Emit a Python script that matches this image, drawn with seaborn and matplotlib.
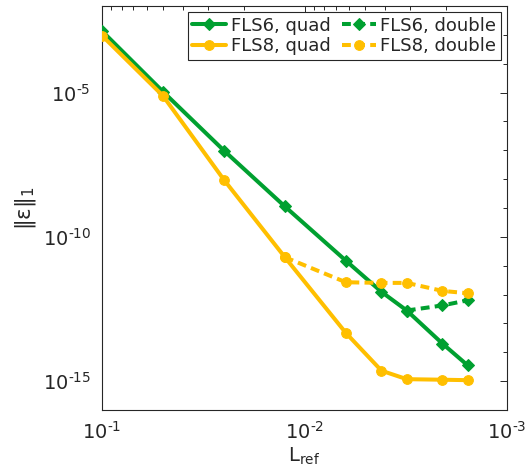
import numpy as np
import pandas as pd
import matplotlib
matplotlib.use("Agg")
import matplotlib.pyplot as plt
import matplotlib.ticker as mticker
import seaborn as sns

# ---- data ----
L_ref = [0.1, 0.05, 0.025, 0.0125, 0.00625, 1/240, 1/320, 1/480, 1/640]
fls6_quad = [1.36e-3, 1.08e-5, 9.8e-8, 1.13e-9, 1.5e-11, 1.24e-12, 2.8e-13, 2.0e-14, 3.5e-15]
fls8_quad = [9.4e-4, 7.7e-6, 9.5e-9, 1.97e-11, 4.7e-14, 2.3e-15, 1.17e-15, 1.12e-15, 1.08e-15]
L_ref_fls6_double = [1/320, 1/480, 1/640]
fls6_double = [2.8e-13, 4.2e-13, 6.35e-13]
L_ref_fls8_double = [0.0125, 0.00625, 1/240, 1/320, 1/480, 1/640]
fls8_double = [1.97e-11, 2.67e-12, 2.54e-12, 2.54e-12, 1.34e-12, 1.11e-12]
labels = ["FLS6, quad", "FLS8, quad", "FLS6, double", "FLS8, double"]

green = "#00A030"
yellow = "#FFBF00"

sns.set_style("white")
plt.rcParams["font.family"] = ["DejaVu Sans"]
plt.rcParams["mathtext.default"] = "regular"

fig = plt.figure(figsize=(5.32, 4.75), dpi=100)
ax = fig.add_axes([102/532, 1-410/475, 405/532, 404/475])

lw = 2.9
series = [
    (L_ref, fls6_quad, green, "D", "-", labels[0], 6.0),
    (L_ref, fls8_quad, yellow, "o", "-", labels[1], 7.0),
    (L_ref_fls6_double, fls6_double, green, "D", "--", labels[2], 6.0),
    (L_ref_fls8_double, fls8_double, yellow, "o", "--", labels[3], 7.0),
]
for i, (xs, ys, c, m, ls, lab, ms) in enumerate(series):
    df = pd.DataFrame({"x": xs, "y": ys})
    sns.lineplot(data=df, x="x", y="y", ax=ax, color=c, marker=m, markersize=ms,
                 markeredgecolor=c, markerfacecolor=c, linewidth=lw, label=lab,
                 zorder=3 + i, sort=False)
    line = ax.get_lines()[-1]
    if ls == "--":
        line.set_dashes((2.2, 1.3))

ax.set_xscale("log")
ax.set_yscale("log")
ax.set_xlim(0.1, 0.001)
ax.set_ylim(1e-16, 1e-2)


def pow_fmt(v, p):
    e = int(round(np.log10(v)))
    s = str(abs(e))
    sign = "\u2010" if e < 0 else ""
    return "10$^{" + sign + s + "}$"


ax.yaxis.set_major_locator(mticker.FixedLocator([1e-15, 1e-10, 1e-5]))
ax.yaxis.set_minor_locator(mticker.FixedLocator([10.0**k for k in range(-16, -1)]))
ax.yaxis.set_minor_formatter(mticker.NullFormatter())
ax.yaxis.set_major_formatter(mticker.FuncFormatter(pow_fmt))
ax.xaxis.set_major_locator(mticker.FixedLocator([1e-1, 1e-2, 1e-3]))
ax.xaxis.set_minor_locator(mticker.LogLocator(base=10, subs=np.arange(2, 10), numticks=20))
ax.xaxis.set_minor_formatter(mticker.NullFormatter())
ax.xaxis.set_major_formatter(mticker.FuncFormatter(pow_fmt))

spine_c = "#262626"
for s in ax.spines.values():
    s.set_color(spine_c)
    s.set_linewidth(0.8)
ax.tick_params(which="both", direction="in", top=True, right=True, colors=spine_c,
               labelcolor="#262626", width=0.7)
ax.tick_params(which="major", length=5, labelsize=14, pad=8)
ax.tick_params(which="minor", length=3)

ax.set_xlabel(r"$L_{ref}$", fontsize=14, color="#262626", labelpad=2)
ax.set_ylabel(r"$\|\varepsilon\|_1$", fontsize=15.5, color="#262626", labelpad=3)

leg = ax.legend(ncol=2, loc="upper right", bbox_to_anchor=(0.985, 0.985),
                borderaxespad=0, fontsize=13, frameon=True, fancybox=False,
                handlelength=1.9, columnspacing=0.6, handletextpad=0.25,
                borderpad=0.25, labelspacing=0.15)
leg.get_frame().set_edgecolor("#262626")
leg.get_frame().set_linewidth(0.8)
leg.get_frame().set_alpha(1)

fig.savefig("out.png", dpi=100)
